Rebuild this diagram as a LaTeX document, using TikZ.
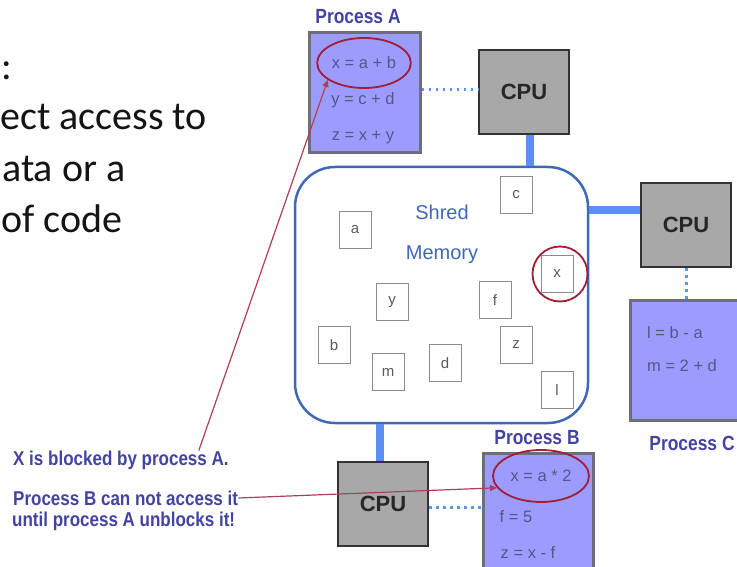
\documentclass[tikz,border=0pt]{standalone}
\usepackage{fontspec}
\setmainfont{Liberation Sans}
\newfontfamily\calibfont{Carlito}
\newfontfamily\narrowfont[FakeStretch=0.85]{Liberation Sans}
\usetikzlibrary{shapes.geometric,arrows.meta}
\definecolor{procfill}{HTML}{9C9CFF}
\definecolor{procedge}{HTML}{6E6E78}
\definecolor{cpufill}{HTML}{A8A8A8}
\definecolor{busblue}{HTML}{5C8FF2}
\definecolor{memblue}{HTML}{3F68B8}
\definecolor{dotblue}{HTML}{5E93E6}
\definecolor{markred}{HTML}{A21D35}
\definecolor{labelblue}{HTML}{4343A3}
\definecolor{codegray}{HTML}{55558A}
\begin{document}
\begin{tikzpicture}[
        x=1pt, y=-1pt,
        procbox/.style={draw=procedge, fill=procfill, line width=3pt},
        cpubox/.style={draw=black!80, fill=cpufill, line width=2.5pt, minimum width=90pt, minimum height=84pt, font=\bfseries\fontsize{22}{24}\selectfont, text=black!85},
        cell/.style={draw=black!45, fill=white, line width=1pt, minimum width=32pt, minimum height=37pt, font=\fontsize{15}{17}\selectfont, text=black!65},
        code/.style={font=\fontsize{16.5}{19}\selectfont, text=codegray, inner sep=1pt},
        plabel/.style={font=\narrowfont\bfseries\fontsize{20.5}{22}\selectfont, text=labelblue, inner sep=0pt},
        note/.style={font=\narrowfont\bfseries\fontsize{20}{22}\selectfont, text=labelblue, inner sep=0pt, anchor=west},
        bigtext/.style={font=\calibfont\fontsize{40}{48}\selectfont, text=black!92, inner sep=0pt, anchor=base west},
        bus/.style={draw=busblue, line width=8pt},
        dotlink/.style={draw=dotblue, line width=3pt, dash pattern=on 2.5pt off 4.5pt},
        ring/.style={draw=markred, line width=1.8pt, ellipse},
        callout/.style={draw=markred!85, line width=1.2pt, -{Triangle[length=7pt,width=6pt]}},
    ]
    \useasboundingbox[fill=white] (0,0) rectangle (737,567);

    % left-hand text
    \node[bigtext] (t0) at (1,80) {:};
    \node[bigtext] (t1) at (0,130) {ect access to};
    \node[bigtext] (t2) at (2,182) {ata or a};
    \node[bigtext] (t3) at (1,233) {of code};

    % shared memory
    \node[draw=memblue, line width=2.5pt, rounded corners=40pt, minimum width=293pt, minimum height=256pt] (mem) at (441.5,295) {};
    \node[font=\fontsize{20}{22}\selectfont, text=memblue] (shred) at (442,212) {Shred};
    \node[font=\fontsize{20}{22}\selectfont, text=memblue] (memory) at (442,255) {Memory};
    \node[cell] (ca) at (355,230) {a};
    \node[cell] (cc) at (516,195) {c};
    \node[cell] (cx) at (557,274) {x};
    \node[cell] (cy) at (392,302) {y};
    \node[cell] (cf) at (495,300) {f};
    \node[cell] (cb) at (334,345) {b};
    \node[cell] (cm) at (388,372) {m};
    \node[cell] (cd) at (445,363) {d};
    \node[cell] (cz) at (516,345) {z};
    \node[cell] (cl) at (557,390) {l};
    \node[draw=markred, line width=1.8pt, circle, minimum size=55pt] (xring) at (560,274) {};

    % process A
    \node[plabel] (labA) at (358,17) {Process A};
    \node[procbox, minimum width=111pt, minimum height=120pt] (procA) at (364.5,93) {};
    \node[code, ring, minimum width=88pt, minimum height=50pt] (ellA) at (364,63) {x = a + b};
    \node[code] (a2) at (363,100) {y = c + d};
    \node[code] (a3) at (363,137) {z = x + y};
    \node[cpubox] (cpuA) at (524,92) {CPU};

    % process C
    \node[cpubox] (cpuC) at (686,225) {CPU};
    \node[procbox, minimum width=115pt, minimum height=120pt] (procC) at (688,360) {};
    \node[code, anchor=west] (c1) at (646,333) {l = b - a};
    \node[code, anchor=west] (c2) at (646,366) {m = 2 + d};
    \node[plabel] (labC) at (692,443) {Process C};

    % process B
    \node[plabel] (labB) at (537,438) {Process B};
    \node[procbox, minimum width=110pt, minimum height=130pt] (procB) at (538,518) {};
    \node[code, ring, minimum width=96pt, minimum height=52pt] (ellB) at (541,476) {x = a * 2};
    \node[code] (b2) at (516,517) {f = 5};
    \node[code] (b3) at (528,553) {z = x - f};
    \node[cpubox] (cpuB) at (383,504) {CPU};

    % links
    \draw[bus] ([xshift=6pt]cpuA.south) -- ([xshift=6pt]cpuA.south |- mem.north);
    \draw[bus] ([yshift=15pt]cpuC.west) -- ([yshift=15pt]cpuC.west -| mem.east);
    \draw[bus] ([xshift=-3pt]cpuB.north) -- ([xshift=-3pt]cpuB.north |- mem.south);
    \draw[dotlink] ([yshift=3pt]procA.east) -- ([yshift=3pt]procA.east -| cpuA.west);
    \draw[dotlink] ([yshift=-3pt]cpuB.east) -- ([yshift=-3pt]cpuB.east -| procB.west);
    \draw[dotlink] (cpuC.south) -- (cpuC.south |- procC.north);

    % notes
    \node[note] (noteX) at (13,460) {X is blocked by process A.};
    \node[note] (noteB1) at (13,498) {Process B can not access it};
    \node[note] (noteB2) at (12,521) {until process A unblocks it!};
    \draw[callout] ([xshift=-30pt]noteX.north east) -- (ellA.205);
    \draw[callout] (noteB1.east) -- (ellB.195);
\end{tikzpicture}
\end{document}
